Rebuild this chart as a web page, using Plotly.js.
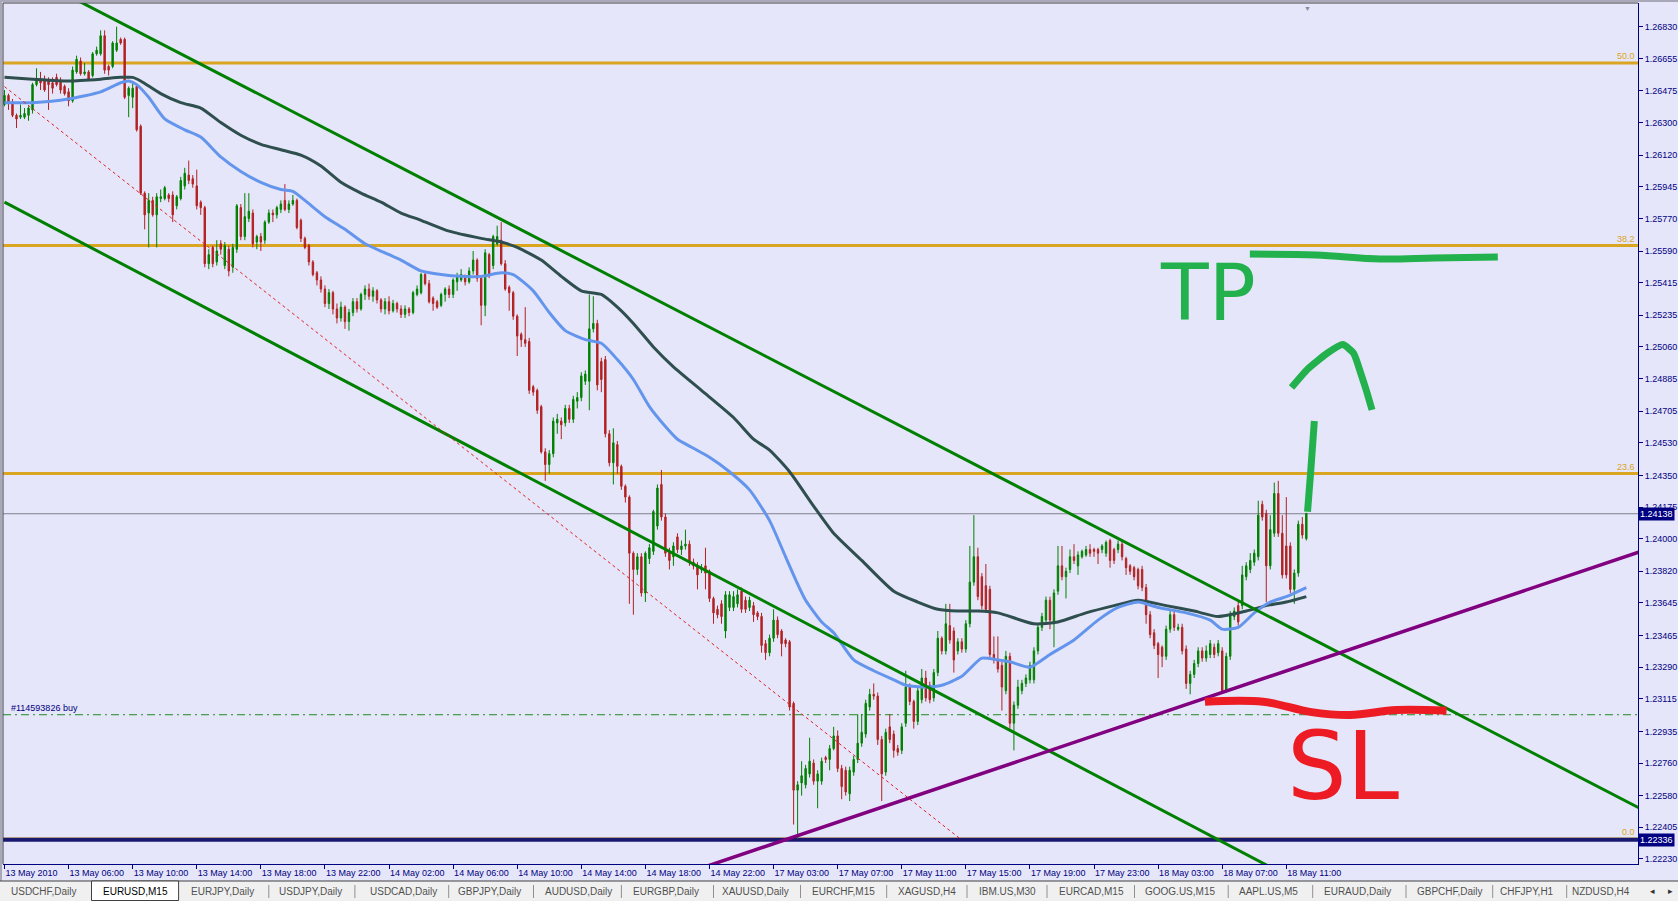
<!DOCTYPE html>
<html>
<head>
<meta charset="utf-8">
<script src="https://cdn.plot.ly/plotly-3.0.1.min.js"></script>
<style>
html,body{margin:0;padding:0;background:#E6E6FA;overflow:hidden;}
#chart{width:1678px;height:901px;}
</style>
</head>
<body>
<div id="chart"></div>
<script>
// ---------------- DATA (EURUSD, M15) ----------------
const openP = [
1.2640,1.2645,1.2641,1.2634,1.2633,1.2633,1.2634,1.2637,1.2651,1.2654,
1.2653,1.2653,1.2652,1.2655,1.2653,1.2650,1.2647,1.2642,1.2658,1.2664,
1.2657,1.2658,1.2656,1.2668,1.2668,1.2678,1.2661,1.2661,1.2670,1.2676,
1.2676,1.2645,1.2644,1.2650,1.2628,1.2591,1.2580,1.2587,1.2579,1.2588,
1.2588,1.2590,1.2590,1.2584,1.2588,1.2595,1.2601,1.2599,1.2595,1.2586,
1.2583,1.2552,1.2561,1.2553,1.2563,1.2551,1.2560,1.2550,1.2560,1.2583,
1.2567,1.2577,1.2580,1.2564,1.2567,1.2565,1.2575,1.2580,1.2579,1.2582,
1.2587,1.2582,1.2585,1.2587,1.2576,1.2566,1.2562,1.2553,1.2547,1.2543,
1.2538,1.2530,1.2536,1.2527,1.2522,1.2528,1.2520,1.2525,1.2531,1.2527,
1.2535,1.2538,1.2534,1.2537,1.2532,1.2527,1.2531,1.2526,1.2530,1.2527,
1.2524,1.2527,1.2525,1.2535,1.2536,1.2546,1.2541,1.2533,1.2531,1.2529,
1.2535,1.2538,1.2535,1.2542,1.2543,1.2545,1.2542,1.2548,1.2554,1.2544,
1.2529,1.2557,1.2551,1.2563,1.2565,1.2552,1.2539,1.2536,1.2523,1.2513,
1.2510,1.2509,1.2484,1.2482,1.2473,1.2448,1.2441,1.2447,1.2464,1.2465,
1.2464,1.2472,1.2466,1.2476,1.2478,1.2487,1.2487,1.2516,1.2519,1.2498,
1.2499,1.2458,1.2442,1.2452,1.2440,1.2429,1.2423,1.2392,1.2383,1.2390,
1.2370,1.2389,1.2393,1.2407,1.2430,1.2412,1.2393,1.2390,1.2401,1.2394,
1.2396,1.2397,1.2387,1.2385,1.2383,1.2385,1.2382,1.2367,1.2361,1.2364,
1.2349,1.2362,1.2362,1.2364,1.2371,1.2366,1.2362,1.2363,1.2359,1.2357,
1.2342,1.2337,1.2345,1.2355,1.2349,1.2344,1.2343,1.2309,1.2261,1.2265,
1.2264,1.2270,1.2276,1.2266,1.2266,1.2279,1.2278,1.2284,1.2291,1.2273,
1.2272,1.2259,1.2271,1.2278,1.2287,1.2292,1.2307,1.2314,1.2313,1.2289,
1.2271,1.2296,1.2292,1.2284,1.2283,1.2298,1.2318,1.2310,1.2299,1.2311,
1.2323,1.2319,1.2312,1.2326,1.2345,1.2338,1.2352,1.2349,1.2338,1.2343,
1.2339,1.2353,1.2376,1.2390,1.2379,1.2374,1.2372,1.2336,1.2333,1.2330,
1.2316,1.2335,1.2298,1.2308,1.2316,1.2320,1.2322,1.2322,1.2338,1.2351,
1.2355,1.2366,1.2353,1.2371,1.2385,1.2379,1.2383,1.2390,1.2385,1.2390,
1.2391,1.2394,1.2394,1.2394,1.2394,1.2392,1.2399,1.2394,1.2394,1.2397,
1.2389,1.2385,1.2384,1.2383,1.2383,1.2373,1.2358,1.2348,1.2342,1.2340,
1.2335,1.2350,1.2358,1.2350,1.2351,1.2339,1.2320,1.2325,1.2331,1.2338,
1.2334,1.2336,1.2340,1.2337,1.2338,1.2316,1.2335,1.2357,1.2363,1.2363,
1.2379,1.2383,1.2387,1.2390,1.2419,1.2414,1.2385,1.2403,1.2425,1.2403,
1.2396,1.2396,1.2372,1.2381,1.2408,1.2400];
const highP = [
1.2648,1.2646,1.2643,1.2635,1.2640,1.2638,1.2639,1.2652,1.2660,1.2658,
1.2656,1.2655,1.2655,1.2657,1.2655,1.2651,1.2649,1.2661,1.2667,1.2666,
1.2663,1.2659,1.2669,1.2672,1.2681,1.2681,1.2662,1.2675,1.2683,1.2677,
1.2677,1.2650,1.2653,1.2651,1.2629,1.2592,1.2591,1.2589,1.2591,1.2593,
1.2595,1.2591,1.2592,1.2590,1.2600,1.2605,1.2609,1.2601,1.2604,1.2587,
1.2584,1.2560,1.2562,1.2565,1.2565,1.2564,1.2562,1.2563,1.2585,1.2585,
1.2591,1.2591,1.2582,1.2568,1.2569,1.2576,1.2582,1.2582,1.2584,1.2587,
1.2596,1.2587,1.2590,1.2588,1.2577,1.2567,1.2563,1.2554,1.2548,1.2545,
1.2540,1.2538,1.2537,1.2530,1.2531,1.2529,1.2527,1.2533,1.2533,1.2536,
1.2540,1.2541,1.2539,1.2538,1.2533,1.2533,1.2534,1.2532,1.2531,1.2529,
1.2529,1.2528,1.2537,1.2540,1.2547,1.2548,1.2543,1.2534,1.2532,1.2536,
1.2539,1.2540,1.2544,1.2547,1.2549,1.2546,1.2550,1.2559,1.2555,1.2545,
1.2560,1.2558,1.2568,1.2573,1.2575,1.2554,1.2540,1.2537,1.2524,1.2514,
1.2528,1.2511,1.2485,1.2483,1.2474,1.2450,1.2449,1.2467,1.2469,1.2467,
1.2474,1.2474,1.2479,1.2481,1.2492,1.2493,1.2535,1.2534,1.2521,1.2500,
1.2501,1.2460,1.2461,1.2454,1.2441,1.2430,1.2424,1.2393,1.2392,1.2392,
1.2393,1.2397,1.2416,1.2430,1.2438,1.2414,1.2395,1.2398,1.2403,1.2399,
1.2405,1.2399,1.2389,1.2387,1.2386,1.2395,1.2383,1.2368,1.2363,1.2366,
1.2371,1.2371,1.2371,1.2372,1.2373,1.2368,1.2368,1.2365,1.2360,1.2359,
1.2344,1.2347,1.2361,1.2357,1.2350,1.2345,1.2344,1.2310,1.2266,1.2277,
1.2275,1.2290,1.2278,1.2272,1.2279,1.2280,1.2286,1.2296,1.2294,1.2275,
1.2274,1.2274,1.2280,1.2303,1.2303,1.2311,1.2317,1.2320,1.2315,1.2291,
1.2295,1.2303,1.2294,1.2286,1.2298,1.2327,1.2320,1.2311,1.2318,1.2328,
1.2327,1.2321,1.2328,1.2349,1.2346,1.2364,1.2364,1.2351,1.2345,1.2345,
1.2355,1.2396,1.2413,1.2395,1.2381,1.2386,1.2374,1.2346,1.2346,1.2332,
1.2338,1.2337,1.2310,1.2322,1.2322,1.2325,1.2332,1.2340,1.2353,1.2359,
1.2368,1.2368,1.2372,1.2396,1.2396,1.2384,1.2394,1.2397,1.2393,1.2394,
1.2396,1.2397,1.2395,1.2395,1.2397,1.2399,1.2400,1.2395,1.2399,1.2399,
1.2390,1.2386,1.2385,1.2384,1.2385,1.2375,1.2360,1.2350,1.2343,1.2341,
1.2352,1.2360,1.2360,1.2353,1.2353,1.2341,1.2327,1.2333,1.2340,1.2340,
1.2341,1.2344,1.2342,1.2344,1.2340,1.2337,1.2360,1.2362,1.2365,1.2385,
1.2387,1.2392,1.2394,1.2421,1.2421,1.2416,1.2413,1.2431,1.2432,1.2413,
1.2423,1.2398,1.2383,1.2410,1.2412,1.2414];
const lowP = [
1.2639,1.2637,1.2633,1.2627,1.2632,1.2632,1.2631,1.2635,1.2650,1.2648,
1.2647,1.2637,1.2646,1.2650,1.2646,1.2645,1.2639,1.2641,1.2657,1.2656,
1.2656,1.2653,1.2655,1.2667,1.2667,1.2657,1.2656,1.2660,1.2669,1.2673,
1.2643,1.2633,1.2638,1.2625,1.2590,1.2571,1.2561,1.2578,1.2561,1.2586,
1.2587,1.2586,1.2575,1.2582,1.2587,1.2593,1.2596,1.2594,1.2582,1.2579,
1.2550,1.2549,1.2550,1.2551,1.2557,1.2549,1.2545,1.2547,1.2558,1.2565,
1.2565,1.2575,1.2561,1.2560,1.2559,1.2563,1.2574,1.2575,1.2577,1.2580,
1.2581,1.2580,1.2584,1.2571,1.2564,1.2560,1.2551,1.2545,1.2540,1.2536,
1.2528,1.2527,1.2524,1.2519,1.2520,1.2516,1.2515,1.2523,1.2525,1.2526,
1.2532,1.2532,1.2531,1.2530,1.2525,1.2524,1.2524,1.2525,1.2525,1.2522,
1.2522,1.2523,1.2524,1.2534,1.2535,1.2540,1.2530,1.2526,1.2527,1.2528,
1.2531,1.2533,1.2533,1.2537,1.2542,1.2540,1.2541,1.2546,1.2542,1.2518,
1.2523,1.2544,1.2549,1.2562,1.2551,1.2537,1.2526,1.2521,1.2501,1.2506,
1.2506,1.2480,1.2479,1.2469,1.2447,1.2432,1.2436,1.2445,1.2458,1.2455,
1.2462,1.2464,1.2464,1.2472,1.2476,1.2485,1.2471,1.2514,1.2482,1.2481,
1.2456,1.2440,1.2430,1.2436,1.2427,1.2420,1.2364,1.2358,1.2380,1.2368,
1.2365,1.2386,1.2391,1.2405,1.2410,1.2390,1.2383,1.2385,1.2392,1.2391,
1.2394,1.2385,1.2383,1.2372,1.2381,1.2372,1.2365,1.2353,1.2356,1.2353,
1.2345,1.2360,1.2360,1.2362,1.2359,1.2359,1.2360,1.2354,1.2355,1.2337,
1.2333,1.2335,1.2343,1.2345,1.2335,1.2340,1.2305,1.2242,1.2234,1.2258,
1.2262,1.2268,1.2264,1.2251,1.2264,1.2276,1.2272,1.2283,1.2271,1.2256,
1.2258,1.2255,1.2269,1.2276,1.2285,1.2290,1.2305,1.2311,1.2286,1.2255,
1.2269,1.2287,1.2279,1.2280,1.2281,1.2296,1.2308,1.2295,1.2297,1.2309,
1.2310,1.2309,1.2310,1.2324,1.2336,1.2336,1.2342,1.2326,1.2336,1.2337,
1.2337,1.2351,1.2374,1.2366,1.2361,1.2359,1.2334,1.2331,1.2326,1.2305,
1.2314,1.2295,1.2283,1.2306,1.2314,1.2318,1.2320,1.2320,1.2336,1.2349,
1.2353,1.2350,1.2340,1.2369,1.2377,1.2367,1.2381,1.2386,1.2380,1.2389,
1.2390,1.2390,1.2390,1.2386,1.2392,1.2390,1.2384,1.2386,1.2392,1.2388,
1.2380,1.2380,1.2377,1.2372,1.2371,1.2353,1.2345,1.2339,1.2323,1.2329,
1.2333,1.2348,1.2349,1.2349,1.2336,1.2317,1.2314,1.2323,1.2329,1.2332,
1.2332,1.2334,1.2334,1.2335,1.2315,1.2315,1.2333,1.2355,1.2352,1.2361,
1.2377,1.2381,1.2385,1.2388,1.2410,1.2365,1.2383,1.2401,1.2401,1.2378,
1.2378,1.2370,1.2364,1.2379,1.2400,1.2399];
const closeP = [
1.2645,1.2641,1.2634,1.2632,1.2634,1.2635,1.2638,1.2651,1.2654,1.2652,
1.2648,1.2651,1.2649,1.2651,1.2648,1.2646,1.2642,1.2659,1.2665,1.2657,
1.2658,1.2654,1.2668,1.2670,1.2678,1.2659,1.2659,1.2674,1.2674,1.2674,
1.2644,1.2649,1.2649,1.2626,1.2591,1.2579,1.2587,1.2579,1.2589,1.2589,
1.2594,1.2588,1.2579,1.2589,1.2598,1.2602,1.2598,1.2596,1.2584,1.2583,
1.2552,1.2557,1.2552,1.2559,1.2560,1.2562,1.2548,1.2561,1.2584,1.2567,
1.2578,1.2581,1.2563,1.2567,1.2564,1.2575,1.2580,1.2579,1.2583,1.2585,
1.2582,1.2585,1.2587,1.2572,1.2566,1.2561,1.2553,1.2546,1.2543,1.2538,
1.2530,1.2536,1.2527,1.2522,1.2528,1.2520,1.2525,1.2531,1.2527,1.2535,
1.2538,1.2534,1.2537,1.2532,1.2527,1.2531,1.2526,1.2530,1.2527,1.2524,
1.2527,1.2525,1.2536,1.2538,1.2546,1.2541,1.2531,1.2530,1.2528,1.2535,
1.2538,1.2535,1.2543,1.2545,1.2546,1.2542,1.2548,1.2554,1.2544,1.2529,
1.2558,1.2546,1.2567,1.2567,1.2552,1.2538,1.2536,1.2523,1.2512,1.2510,
1.2508,1.2482,1.2481,1.2471,1.2448,1.2441,1.2447,1.2465,1.2466,1.2463,
1.2472,1.2466,1.2477,1.2478,1.2490,1.2491,1.2516,1.2519,1.2485,1.2488,
1.2458,1.2442,1.2453,1.2440,1.2429,1.2423,1.2392,1.2383,1.2390,1.2370,
1.2392,1.2395,1.2415,1.2428,1.2412,1.2392,1.2388,1.2396,1.2394,1.2396,
1.2397,1.2387,1.2385,1.2380,1.2384,1.2381,1.2367,1.2359,1.2358,1.2357,
1.2369,1.2369,1.2368,1.2369,1.2361,1.2361,1.2366,1.2358,1.2357,1.2341,
1.2337,1.2345,1.2355,1.2347,1.2342,1.2342,1.2307,1.2261,1.2264,1.2269,
1.2273,1.2277,1.2266,1.2270,1.2277,1.2278,1.2284,1.2291,1.2273,1.2263,
1.2260,1.2272,1.2278,1.2287,1.2293,1.2309,1.2314,1.2313,1.2289,1.2270,
1.2293,1.2289,1.2283,1.2282,1.2296,1.2318,1.2310,1.2299,1.2316,1.2323,
1.2312,1.2311,1.2326,1.2345,1.2338,1.2353,1.2344,1.2333,1.2343,1.2339,
1.2353,1.2376,1.2390,1.2368,1.2363,1.2361,1.2336,1.2333,1.2328,1.2318,
1.2335,1.2298,1.2308,1.2318,1.2320,1.2323,1.2330,1.2338,1.2351,1.2357,
1.2366,1.2355,1.2370,1.2385,1.2379,1.2382,1.2390,1.2388,1.2391,1.2393,
1.2394,1.2392,1.2393,1.2392,1.2396,1.2398,1.2388,1.2388,1.2397,1.2390,
1.2384,1.2382,1.2379,1.2374,1.2373,1.2358,1.2347,1.2341,1.2336,1.2335,
1.2350,1.2358,1.2351,1.2351,1.2338,1.2320,1.2325,1.2331,1.2338,1.2334,
1.2338,1.2342,1.2336,1.2342,1.2316,1.2335,1.2358,1.2360,1.2354,1.2380,
1.2385,1.2388,1.2392,1.2413,1.2412,1.2385,1.2405,1.2425,1.2403,1.2380,
1.2380,1.2372,1.2381,1.2408,1.2402,1.2414];

// moving averages (bar index, price)
const darkMAx = [0,7,16,24,29,32,34,39,44,49,54,59,64,69,74,79,84,89,94,99,104,111,119,124,128,134,139,144,149,153,157,162,167,174,182,187,191,196,202,207,214,222,228,233,238,243,248,257,263,270,277,283,290,297,303,310,315,320,325];
const darkMAy = [1.2655,1.2654,1.2653,1.2654,1.2655,1.2655,1.2653,1.2646,1.2641,1.2638,1.2630,1.2623,1.2618,1.2615,1.2612,1.2606,1.2597,1.2591,1.2586,1.2580,1.2576,1.2570,1.2566,1.2564,1.2561,1.2554,1.2545,1.2537,1.2535,1.2528,1.2519,1.2506,1.2495,1.2482,1.2467,1.2455,1.2449,1.2437,1.2418,1.2403,1.2388,1.2371,1.2365,1.2361,1.2360,1.2360,1.2359,1.2353,1.2354,1.2359,1.2363,1.2366,1.2363,1.2360,1.2357,1.2360,1.2363,1.2365,1.2368];
const blueMAx = [0,7,16,24,29,31,33,36,40,45,49,54,59,64,69,72,75,80,85,90,95,99,104,109,114,119,124,127,132,136,140,145,149,153,157,161,165,168,172,176,181,186,191,195,198,200,204,207,212,217,222,225,230,234,239,244,248,251,256,261,267,273,278,283,288,295,301,304,308,312,316,320,325];
const blueMAy = [1.2641,1.2641,1.2643,1.2647,1.2652,1.2653,1.2651,1.2644,1.2632,1.2626,1.2622,1.2611,1.2603,1.2597,1.2593,1.2592,1.2587,1.2578,1.2571,1.2563,1.2558,1.2554,1.2548,1.2546,1.2545,1.2545,1.2547,1.2546,1.2537,1.2525,1.2515,1.2510,1.2508,1.2499,1.2488,1.2473,1.2462,1.2455,1.2450,1.2445,1.2437,1.2427,1.2410,1.2390,1.2375,1.2366,1.2354,1.2348,1.2333,1.2327,1.2322,1.2319,1.2318,1.2319,1.2324,1.2334,1.2333,1.2332,1.2329,1.2336,1.2344,1.2355,1.2362,1.2365,1.2362,1.2359,1.2355,1.2350,1.2351,1.2359,1.2365,1.2368,1.2373];

// objects
const upperChX = [0, 410],   upperChY = [1.27184, 1.22490];
const lowerChX = [0, 410],   lowerChY = [1.25860, 1.21092];
const purpleX  = [170, 410], purpleY  = [1.22150, 1.23941];
const fibLineX = [0, 238.5], fibLineY = [1.26499, 1.22343];
const fibLevels = [1.26630, 1.25620, 1.24360, 1.22340];
const fibLabels = ['50.0', '38.2', '23.6', '0.0'];
const supportLevel = 1.22336;
const bidPrice = 1.24138;
const orderPrice = 1.23027;
const orderLabel = '#114593826 buy';

// hand drawn marks
const tpStrokeX = [310.9, 327.4, 343.4, 356.8, 372.8];
const tpStrokeY = [1.25573, 1.25568, 1.25546, 1.25551, 1.25557];
const arrowShaftX = [325.3, 326.1, 327.0];
const arrowShaftY = [1.24149, 1.24374, 1.24650];
const arrowHeadX = [321.3, 325.3, 330.2, 334.1, 336.8, 338.7, 340.0, 341.4];
const arrowHeadY = [1.24836, 1.24937, 1.25025, 1.25073, 1.25025, 1.24907, 1.24818, 1.24712];
const slStrokeX = [299.7, 314.2, 325.9, 335.9, 347.5, 360.0];
const slStrokeY = [1.23099, 1.23099, 1.23043, 1.23025, 1.23053, 1.23049];
const tpText = 'TP', slText = 'SL';

// axis labels
const xTickLabels = ['13 May 2010','13 May 06:00','13 May 10:00','13 May 14:00','13 May 18:00','13 May 22:00','14 May 02:00','14 May 06:00','14 May 10:00','14 May 14:00','14 May 18:00','14 May 22:00','17 May 03:00','17 May 07:00','17 May 11:00','17 May 15:00','17 May 19:00','17 May 23:00','18 May 03:00','18 May 07:00','18 May 11:00'];
const yTickVals = [1.26830,1.26655,1.26475,1.26300,1.26120,1.25945,1.25770,1.25590,1.25415,1.25235,1.25060,1.24885,1.24705,1.24530,1.24350,1.24175,1.24000,1.23820,1.23645,1.23465,1.23290,1.23115,1.22935,1.22760,1.22580,1.22405,1.22230];
const tabNames = ['USDCHF,Daily','EURUSD,M15','EURJPY,Daily','USDJPY,Daily','USDCAD,Daily','GBPJPY,Daily','AUDUSD,Daily','EURGBP,Daily','XAUUSD,Daily','EURCHF,M15','XAGUSD,H4','IBM.US,M30','EURCAD,M15','GOOG.US,M15','AAPL.US,M5','EURAUD,Daily','GBPCHF,Daily','CHFJPY,H1','NZDUSD,H4'];

// ---------------- LAYOUT ----------------
const W = 1678, H = 901, ML = 3, MR = 40, MT = 3, MB = 37;
const PW = W - ML - MR, PH = H - MT - MB;
const px2x = x => (x - ML) / PW;
const px2y = y => (H - MB - y) / PH;
const BG = '#E6E6FA', NAVY = '#000080';
const FONT = 'Tahoma, "Liberation Sans", Arial, sans-serif';
const BARS_PER_LABEL = 16;

const barIdx = closeP.map((_, i) => i);

const line = (x, y, color, width, extra) => Object.assign({
  type: 'scatter', mode: 'lines', x: x, y: y, hoverinfo: 'skip', showlegend: false,
  line: Object.assign({color: color, width: width}, extra || {})
});

const traces = [
  {type: 'candlestick', x: barIdx, open: openP, high: highP, low: lowP, close: closeP,
   increasing: {line: {color: '#008000', width: 1}, fillcolor: '#008000'},
   decreasing: {line: {color: '#B22222', width: 1}, fillcolor: '#B22222'},
   whiskerwidth: 0, hoverinfo: 'skip', showlegend: false},
  line(darkMAx, darkMAy, '#2F4F4F', 3, {shape: 'spline', smoothing: 0.6}),
  line(blueMAx, blueMAy, '#6495ED', 3, {shape: 'spline', smoothing: 0.6}),
  line(upperChX, upperChY, '#008000', 3),
  line(lowerChX, lowerChY, '#008000', 3),
  line(purpleX, purpleY, '#800080', 3.5),
  line(fibLineX, fibLineY, '#E02020', 1, {dash: '3px,3px'}),
  line(tpStrokeX, tpStrokeY, '#22B14C', 7, {shape: 'spline'}),
  line(arrowShaftX, arrowShaftY, '#22B14C', 7, {shape: 'spline'}),
  line(arrowHeadX, arrowHeadY, '#22B14C', 7, {shape: 'spline', smoothing: 0.5}),
  line(slStrokeX, slStrokeY, '#ED1C24', 8, {shape: 'spline'})
];

const shapes = [];
const annotations = [];

// fib levels
fibLevels.forEach((lv, k) => {
  shapes.push({type: 'line', xref: 'paper', yref: 'y', x0: 0, x1: 1, y0: lv, y1: lv,
               line: {color: '#DAA520', width: 3}, layer: 'below'});
  annotations.push({xref: 'paper', yref: 'y', x: 1, y: lv, xanchor: 'right', yanchor: 'bottom',
                    xshift: -1, yshift: 0, text: fibLabels[k], showarrow: false,
                    font: {family: FONT, size: 9, color: '#DAA520'}});
});
// support, bid, order lines
shapes.push({type: 'line', xref: 'paper', yref: 'y', x0: 0, x1: 1, y0: supportLevel, y1: supportLevel,
             line: {color: '#191970', width: 4}, layer: 'below'});
shapes.push({type: 'line', xref: 'paper', yref: 'y', x0: 0, x1: 1, y0: bidPrice, y1: bidPrice,
             line: {color: '#80808F', width: 1}, layer: 'below'});
shapes.push({type: 'line', xref: 'paper', yref: 'y', x0: 0, x1: 1, y0: orderPrice, y1: orderPrice,
             line: {color: '#1E8C1E', width: 1, dash: '8px,4px,2px,4px'}, layer: 'below'});
annotations.push({xref: 'paper', yref: 'y', x: px2x(9), y: orderPrice, xanchor: 'left', yanchor: 'bottom',
                  text: orderLabel, showarrow: false, font: {family: FONT, size: 9, color: NAVY}});

// price boxes on the right scale
[bidPrice, supportLevel].forEach(p => {
  annotations.push({xref: 'paper', yref: 'y', x: 1, y: p, xanchor: 'left', yanchor: 'middle', xshift: 0,
                    text: p.toFixed(5), showarrow: false, bgcolor: '#000080', borderpad: 1,
                    font: {family: FONT, size: 9, color: '#FFFFFF'}});
});

// hand written TP / SL
annotations.push({xref: 'x', yref: 'y', x: 300.5, y: 1.25357, text: tpText, showarrow: false,
                  xanchor: 'center', yanchor: 'middle', font: {family: 'DejaVu Sans', size: 78, color: '#22B14C'}});
annotations.push({xref: 'x', yref: 'y', x: 334.1, y: 1.22743, text: slText, showarrow: false,
                  xanchor: 'center', yanchor: 'middle', font: {family: 'DejaVu Sans', size: 94, color: '#ED1C24'}});

// chart-shift marker
annotations.push({xref: 'x', yref: 'paper', x: closeP.length - 0.6, y: 1, xanchor: 'center', yanchor: 'top',
                  text: '▼', showarrow: false, font: {family: FONT, size: 7, color: '#8A8A9A'}});

// plot frame (top / left)
shapes.push({type: 'line', xref: 'paper', yref: 'paper', x0: 0, x1: 1, y0: 1, y1: 1, line: {color: '#404040', width: 1}});
shapes.push({type: 'line', xref: 'paper', yref: 'paper', x0: 0, x1: 0, y0: 0, y1: 1, line: {color: '#404040', width: 1}});
shapes.push({type: 'rect', xref: 'paper', yref: 'paper', x0: px2x(0), x1: px2x(2), y0: px2y(881), y1: px2y(0),
             fillcolor: '#A8A8B8', line: {width: 0}});
shapes.push({type: 'rect', xref: 'paper', yref: 'paper', x0: px2x(0), x1: px2x(W), y0: px2y(2), y1: px2y(0),
             fillcolor: '#A8A8B8', line: {width: 0}});

// tab bar
const tabCenters = [44, 135, 222.5, 310, 403, 489, 578, 666, 755, 843, 927, 1007, 1091, 1180, 1268, 1357, 1450, 1527, 1601];
const sepX = [268.8, 354.9, 448.7, 533.5, 621.4, 713.5, 800.5, 886.7, 967, 1047, 1134.5, 1228.2, 1312.7, 1406, 1492.7, 1566.7];
shapes.push({type: 'rect', xref: 'paper', yref: 'paper', x0: px2x(0), x1: px2x(W), y0: px2y(H), y1: px2y(881),
             fillcolor: '#F0F0F0', line: {width: 0}});
shapes.push({type: 'line', xref: 'paper', yref: 'paper', x0: px2x(0), x1: px2x(W), y0: px2y(881), y1: px2y(881),
             line: {color: '#404040', width: 1}});
shapes.push({type: 'rect', xref: 'paper', yref: 'paper', x0: px2x(91.5), x1: px2x(178.6), y0: px2y(900.5), y1: px2y(881),
             fillcolor: '#FFFFFF', line: {color: '#404040', width: 1}});
sepX.forEach(sx => shapes.push({type: 'line', xref: 'paper', yref: 'paper', x0: px2x(sx), x1: px2x(sx),
                                y0: px2y(885), y1: px2y(898), line: {color: '#909090', width: 1}}));
tabNames.forEach((t, k) => annotations.push({xref: 'paper', yref: 'paper', x: px2x(tabCenters[k]), y: px2y(891),
  xanchor: 'center', yanchor: 'middle', text: t, showarrow: false,
  font: {family: FONT, size: 10, color: k === 1 ? '#000000' : '#505050'}}));
annotations.push({xref: 'paper', yref: 'paper', x: px2x(1652), y: px2y(891), xanchor: 'center', yanchor: 'middle',
                  text: '◂', showarrow: false, font: {family: FONT, size: 9, color: '#303030'}});
annotations.push({xref: 'paper', yref: 'paper', x: px2x(1670), y: px2y(891), xanchor: 'center', yanchor: 'middle',
                  text: '▸', showarrow: false, font: {family: FONT, size: 9, color: '#303030'}});

const layout = {
  width: W, height: H,
  margin: {l: ML, r: MR, t: MT, b: MB, pad: 0},
  paper_bgcolor: BG, plot_bgcolor: BG,
  showlegend: false, boxgap: 0.5,
  xaxis: {
    type: 'linear', range: [-0.37, 407.8], fixedrange: true,
    showgrid: false, zeroline: false, showline: true, linecolor: NAVY, linewidth: 1,
    ticks: 'outside', ticklen: 4, tickcolor: NAVY, tickwidth: 1,
    tickvals: xTickLabels.map((_, k) => k * BARS_PER_LABEL), ticktext: xTickLabels,
    ticklabelposition: 'outside right',
    tickfont: {family: FONT, size: 9, color: NAVY},
    rangeslider: {visible: false}
  },
  yaxis: {
    type: 'linear', range: [1.22202, 1.26961], side: 'right', fixedrange: true,
    showgrid: false, zeroline: false, showline: true, linecolor: NAVY, linewidth: 1,
    ticks: 'outside', ticklen: 4, tickcolor: NAVY, tickwidth: 1,
    tickvals: yTickVals, ticktext: yTickVals.map(v => v.toFixed(5)),
    tickfont: {family: FONT, size: 9, color: NAVY}
  },
  shapes: shapes,
  annotations: annotations
};

Plotly.newPlot('chart', traces, layout, {staticPlot: true, displayModeBar: false});
</script>
</body>
</html>
